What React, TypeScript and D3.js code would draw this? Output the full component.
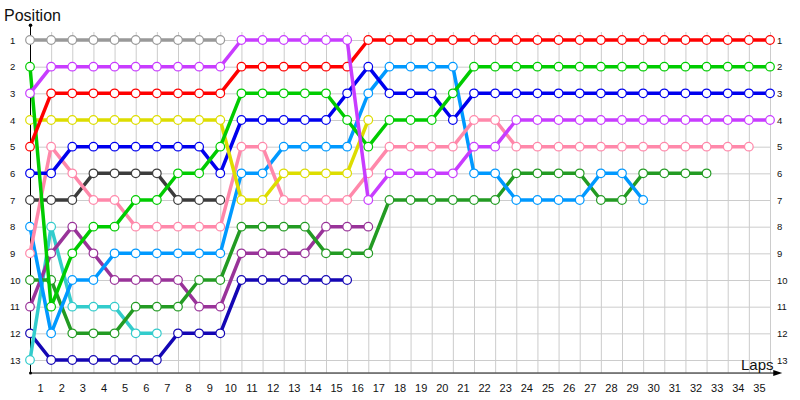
import React from "react";
import * as d3 from "d3";

const laps: number[] = d3.range(0, 36);
const lapLabels: string[] = d3.range(1, 36).map(String);
const positions: number[] = d3.range(1, 14);

const navy = [12, 13, 13, 13, 13, 13, 13, 12, 12, 12, 10, 10, 10, 10, 10, 10];
const teal = [13, 8, 11, 11, 11, 12, 12];
const darkPurple = [11, 9, 8, 9, 10, 10, 10, 10, 11, 11, 9, 9, 9, 9, 8, 8, 8];
const darkGreen = [10, 10, 12, 12, 12, 11, 11, 11, 10, 10, 8, 8, 8, 8, 9, 9, 9, 7, 7, 7, 7, 7, 7, 6, 6, 6, 6, 7, 7, 6, 6, 6, 6];
const lightBlue = [8, 12, 10, 10, 9, 9, 9, 9, 9, 9, 6, 6, 5, 5, 5, 5, 3, 2, 2, 2, 2, 6, 6, 7, 7, 7, 7, 6, 6, 7];
const darkGray = [7, 7, 7, 6, 6, 6, 6, 7, 7, 7];
const pink = [9, 5, 6, 7, 7, 8, 8, 8, 8, 8, 5, 5, 7, 7, 7, 7, 6, 5, 5, 5, 5, 4, 4, 5, 5, 5, 5, 5, 5, 5, 5, 5, 5, 5, 5];
const blue = [6, 6, 5, 5, 5, 5, 5, 5, 5, 6, 4, 4, 4, 4, 4, 3, 2, 3, 3, 3, 4, 3, 3, 3, 3, 3, 3, 3, 3, 3, 3, 3, 3, 3, 3, 3];
const yellow = [4, 4, 4, 4, 4, 4, 4, 4, 4, 4, 7, 7, 6, 6, 6, 6, 4];
const green = [2, 11, 9, 8, 8, 7, 7, 6, 6, 5, 3, 3, 3, 3, 3, 4, 5, 4, 4, 4, 3, 2, 2, 2, 2, 2, 2, 2, 2, 2, 2, 2, 2, 2, 2, 2];
const red = [5, 3, 3, 3, 3, 3, 3, 3, 3, 3, 2, 2, 2, 2, 2, 2, 1, 1, 1, 1, 1, 1, 1, 1, 1, 1, 1, 1, 1, 1, 1, 1, 1, 1, 1, 1];
const purple = [3, 2, 2, 2, 2, 2, 2, 2, 2, 2, 1, 1, 1, 1, 1, 1, 7, 6, 6, 6, 6, 5, 5, 4, 4, 4, 4, 4, 4, 4, 4, 4, 4, 4, 4, 4];
const gray = [1, 1, 1, 1, 1, 1, 1, 1, 1, 1];

const seriesList: { values: number[]; color: string }[] = [
  { values: navy, color: "#1406b4" },
  { values: teal, color: "#33cccc" },
  { values: darkPurple, color: "#993399" },
  { values: darkGreen, color: "#239b23" },
  { values: lightBlue, color: "#0099ff" },
  { values: darkGray, color: "#3c3c3c" },
  { values: pink, color: "#ff88aa" },
  { values: blue, color: "#0000ee" },
  { values: yellow, color: "#dddd00" },
  { values: green, color: "#00cc00" },
  { values: red, color: "#ff0000" },
  { values: purple, color: "#c83cff" },
  { values: gray, color: "#999999" },
];

export default function App() {
  const x = d3.scaleLinear().domain([0, 35]).range([30, 770]);
  const y = d3.scaleLinear().domain([1, 13]).range([40, 360]);
  const axisY = y(13.47);
  const topY = y(0.45);
  const line = d3
    .line<number>()
    .x((_, i) => x(i))
    .y((d) => y(d));

  return (
    <svg
      width={800}
      height={400}
      style={{ position: "absolute", left: 0, top: 0, background: "#fff" }}
      fontFamily="'Liberation Sans', Arial, sans-serif"
    >
      {/* grid */}
      <g stroke="#cccccc" strokeWidth={1}>
        {laps.slice(1).map((l) => (
          <line key={"v" + l} x1={x(l) + 0.5} x2={x(l) + 0.5} y1={y(0.7)} y2={axisY} />
        ))}
        {positions.map((p) => (
          <line key={"h" + p} x1={x(0)} x2={x(35)} y1={y(p) + 0.5} y2={y(p) + 0.5} />
        ))}
      </g>
      {/* axes */}
      <line x1={x(0) + 0.5} x2={x(0) + 0.5} y1={topY} y2={axisY} stroke="#000" strokeWidth={1} />
      <circle cx={x(0) + 0.5} cy={topY} r={1.8} fill="#000" />
      <line x1={x(0)} x2={x(35.2)} y1={axisY + 0.5} y2={axisY + 0.5} stroke="#000" strokeWidth={1} />
      <path
        d={`M${x(35.2) + 8},${axisY + 0.5} L${x(35.2) - 1},${axisY - 2.5} L${x(35.2) - 1},${axisY + 3.5} Z`}
        fill="#000"
      />
      <circle cx={x(0) + 0.5} cy={axisY + 0.5} r={1.5} fill="#000" />
      {/* tick labels */}
      <g fontSize={11} fill="#111" textAnchor="middle">
        {lapLabels.map((t, i) => (
          <text key={"xl" + t} x={x(i + 0.5)} y={392}>
            {t}
          </text>
        ))}
      </g>
      <g fontSize={9.5} fill="#111">
        {positions.map((p) => (
          <text key={"yl" + p} x={10} y={y(p) + 3.5}>
            {p}
          </text>
        ))}
        {positions.map((p) => (
          <text key={"yr" + p} x={777} y={y(p) + 3.5}>
            {p}
          </text>
        ))}
      </g>
      <text x={4} y={21} fontSize={16} fill="#111">
        Position
      </text>
      <text x={741} y={370} fontSize={15} fill="#111">
        Laps
      </text>
      {/* series */}
      {seriesList.map((s, si) => (
        <g key={"s" + si}>
          <path d={line(s.values) || ""} fill="none" stroke={s.color} strokeWidth={3.5} strokeLinejoin="round" />
          {s.values.map((v, i) => (
            <circle key={i} cx={x(i)} cy={y(v)} r={4.3} fill="#fff" stroke={s.color} strokeWidth={1.2} />
          ))}
        </g>
      ))}
    </svg>
  );
}
